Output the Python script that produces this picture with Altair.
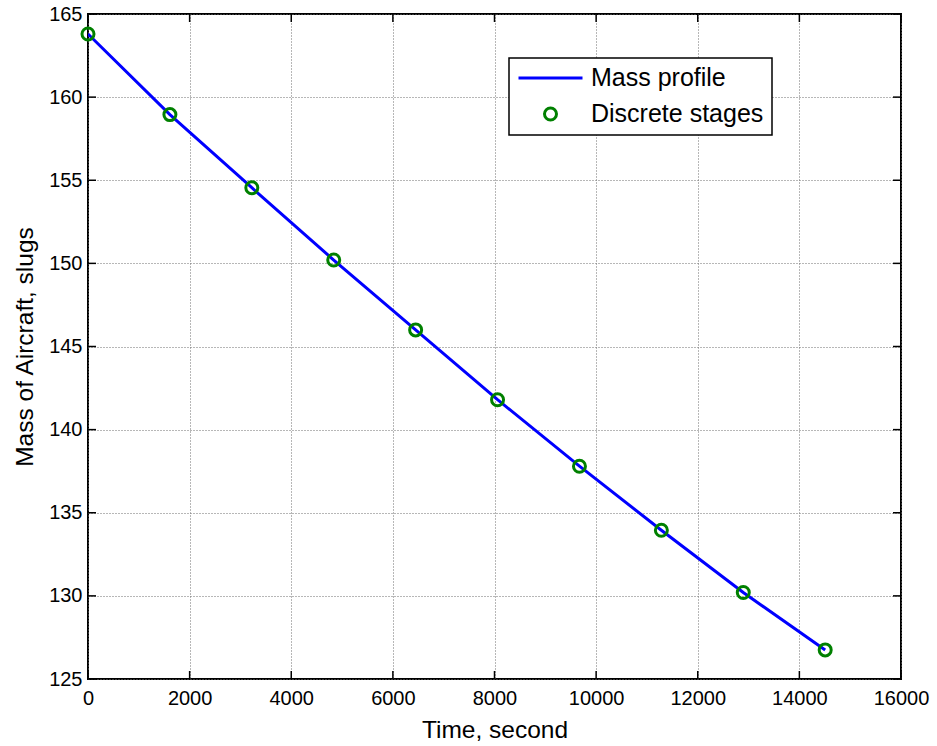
import altair as alt
import pandas as pd

# ---- data ----
stage_time = [0, 1612, 3224, 4836, 6448, 8060, 9672, 11284, 12896, 14508]
stage_mass = [163.8, 158.95, 154.55, 150.2, 146.0, 141.8, 137.8, 133.95, 130.2, 126.75]
series_names = ["Mass profile", "Discrete stages"]
series_colors = ["#0000ff", "#008000"]
x_ticks = [0, 2000, 4000, 6000, 8000, 10000, 12000, 14000, 16000]
y_ticks = [125, 130, 135, 140, 145, 150, 155, 160, 165]

W, H = 813, 665
FONT = "Liberation Sans"

df = pd.DataFrame({"time": stage_time, "mass": stage_mass})
xt = pd.DataFrame({"t": x_ticks})
yt = pd.DataFrame({"m": y_ticks})

xscale = alt.Scale(domain=[0, 16000], nice=False, zero=False)
yscale = alt.Scale(domain=[125, 165], nice=False, zero=False)

legend = alt.Legend(
    title=None, orient="none", legendX=421, legendY=44,
    fillColor="white", strokeColor="black", padding=8, cornerRadius=0,
    labelFontSize=25, labelFont=FONT, labelColor="black", labelOffset=7,
    labelLimit=400, symbolStrokeWidth=3, clipHeight=24, rowPadding=11,
)
color = alt.Color("series:N", scale=alt.Scale(domain=series_names, range=series_colors), legend=legend)
shape = alt.Shape("series:N", scale=alt.Scale(domain=series_names, range=["stroke", "circle"]), legend=legend)
size = alt.Size("series:N", scale=alt.Scale(domain=series_names, range=[4096, 144]), legend=legend)

xaxis = alt.Axis(values=x_ticks, format="d", ticks=False, domain=False, grid=True,
                 labelFontSize=20, labelFont=FONT, labelColor="black", labelPadding=9,
                 title="Time, second", titleFontSize=24.5, titleFont=FONT, titleFontWeight="normal",
                 titleColor="black", titleBaseline="alphabetic", titleY=58,
                 labelFlush=False, labelOverlap=False)
yaxis = alt.Axis(values=y_ticks, format="d", ticks=False, domain=False, grid=True,
                 labelFontSize=20, labelFont=FONT, labelColor="black", labelPadding=6,
                 title="Mass of Aircraft, slugs", titleFontSize=24.5, titleFont=FONT,
                 titleFontWeight="normal", titleColor="black", titleBaseline="alphabetic",
                 titleX=-56, labelFlush=False, labelOverlap=False)

line = alt.Chart(df).transform_calculate(series="'Mass profile'").mark_line(
    strokeWidth=3, clip=True
).encode(
    x=alt.X("time:Q", scale=xscale, axis=xaxis),
    y=alt.Y("mass:Q", scale=yscale, axis=yaxis),
    color=color,
)

points = alt.Chart(df).transform_calculate(series="'Discrete stages'").mark_point(
    filled=False, strokeWidth=3, opacity=1
).encode(
    x=alt.X("time:Q", scale=xscale),
    y=alt.Y("mass:Q", scale=yscale),
    color=color, shape=shape, size=size,
)

TL = 8
tick_style = dict(color="black", strokeWidth=1.5)
bottom_ticks = alt.Chart(xt).mark_rule(**tick_style).encode(
    x=alt.X("t:Q", scale=xscale), y=alt.value(H), y2=alt.value(H - TL))
top_ticks = alt.Chart(xt).mark_rule(**tick_style).encode(
    x=alt.X("t:Q", scale=xscale), y=alt.value(0), y2=alt.value(TL))
left_ticks = alt.Chart(yt).mark_rule(**tick_style).encode(
    y=alt.Y("m:Q", scale=yscale), x=alt.value(0), x2=alt.value(TL))
right_ticks = alt.Chart(yt).mark_rule(**tick_style).encode(
    y=alt.Y("m:Q", scale=yscale), x=alt.value(W), x2=alt.value(W - TL))

chart = alt.layer(
    bottom_ticks, top_ticks, left_ticks, right_ticks, line, points
).properties(
    width=W, height=H,
    autosize=alt.AutoSizeParams(type="none"),
    padding={"left": 88, "top": 14, "right": 36, "bottom": 67},
    background="white",
).configure_view(
    stroke="black", strokeWidth=2, fill="white"
).configure_axis(
    gridColor="#6e6e6e", gridDash=[1, 2], gridWidth=1, gridOpacity=1
).configure_legend(
    strokeWidth=1.5
)

chart.save("out.html", embed_options={"renderer": "svg", "actions": False})
